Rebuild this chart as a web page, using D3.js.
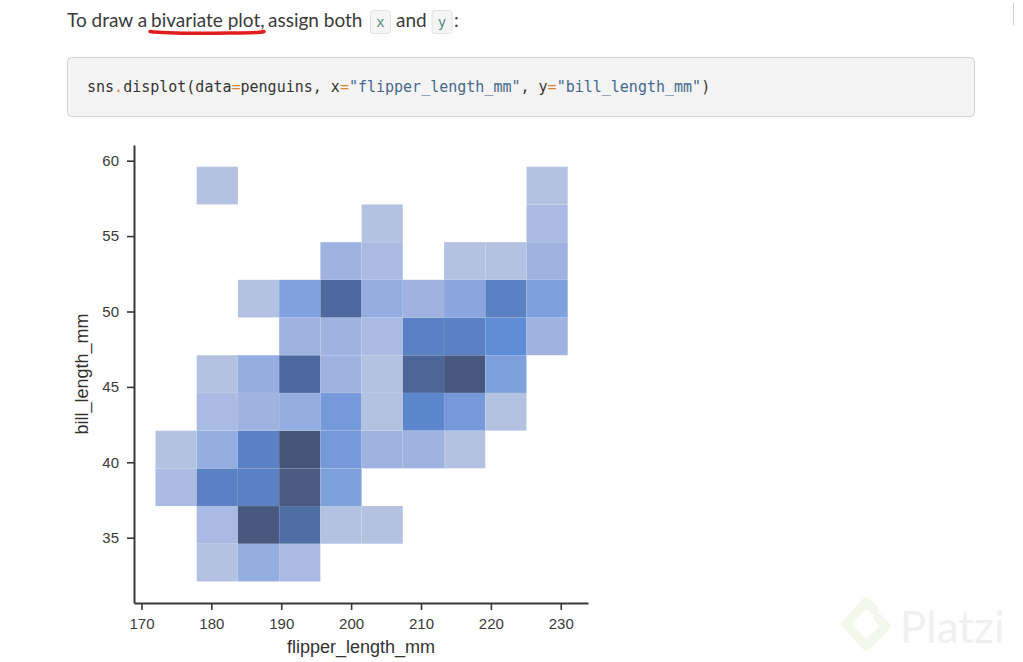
<!DOCTYPE html>
<html>
<head>
<meta charset="utf-8">
<script src="https://cdn.jsdelivr.net/npm/d3@7"></script>
<style>
  html, body { margin: 0; padding: 0; background: #fff; }
  svg { display: block; }
</style>
</head>
<body>
<svg id="chart" width="1023" height="662"></svg>
<script>
// ---- data ----
const xEdges = [172, 177.9, 183.8, 189.7, 195.6, 201.5, 207.4, 213.3, 219.2, 225.1, 231];
const yEdges = [32.1, 34.6, 37.1, 39.6, 42.1, 44.6, 47.1, 49.6, 52.1, 54.6, 57.1, 59.6];
// counts per bill_length bin (row 0 = lowest), per flipper_length bin
const counts = [
  [0, 1, 4, 2, 0, 0, 0, 0, 0, 0],
  [0, 2, 19, 14, 1, 1, 0, 0, 0, 0],
  [2, 12, 12, 18, 7, 0, 0, 0, 0, 0],
  [1, 4, 12, 20, 8, 3, 3, 1, 0, 0],
  [0, 2, 3, 4, 8, 1, 11, 8, 1, 0],
  [0, 1, 4, 15, 3, 1, 16, 19, 7, 0],
  [0, 0, 0, 3, 3, 2, 12, 12, 10, 3],
  [0, 0, 1, 6, 15, 4, 3, 5, 12, 7],
  [0, 0, 0, 0, 3, 2, 0, 1, 1, 3],
  [0, 0, 0, 0, 0, 1, 0, 0, 0, 2],
  [0, 1, 0, 0, 0, 0, 0, 0, 0, 1]
];
const xTicks = [170, 180, 190, 200, 210, 220, 230];
const yTicks = [35, 40, 45, 50, 55, 60];
const xLabel = "flipper_length_mm";
const yLabel = "bill_length_mm";
const colorStops = [1, 2, 3, 4, 5, 6, 7, 8, 10, 12, 14, 16, 18, 20];
const colorValues = ["#b4c2e2", "#a9bbe2", "#a0b3e0", "#94aee2", "#8ba6de", "#80a1de", "#7ea0dd",
  "#7699db", "#5f8dd6", "#5a81c4", "#4f6ea6", "#4c6498", "#4a5b82", "#45557a"];

const svg = d3.select("#chart");

// ---- page text ----
const textColor = "#3b3b3b";
const prose = svg.append("g").attr("font-family", "Lato, 'Open Sans', sans-serif").attr("font-size", 19).attr("fill", textColor);
prose.append("text").attr("x", 67).attr("y", 27).text("To draw a");
prose.append("text").attr("x", 151).attr("y", 27).text("bivariate plot,");
prose.append("text").attr("x", 268).attr("y", 27).text("assign both");
prose.append("text").attr("x", 396).attr("y", 27).text("and");
prose.append("text").attr("x", 454).attr("y", 27).text(":");

svg.append("path")
  .attr("d", "M150,31.5 C170,34 200,33.5 230,33 C250,32.8 258,33.2 264,31.5")
  .attr("fill", "none").attr("stroke", "#e01e1e").attr("stroke-width", 3.4).attr("stroke-linecap", "round");

[[370.5, "x"], [432, "y"]].forEach(([bx, t]) => {
  svg.append("rect").attr("x", bx).attr("y", 10.5).attr("width", 20).attr("height", 23).attr("rx", 3)
    .attr("fill", "#f5f5f5").attr("stroke", "#e2e2e2");
  svg.append("text").attr("x", bx + 10).attr("y", 27).attr("text-anchor", "middle")
    .attr("font-family", "'DejaVu Sans Mono', monospace").attr("font-size", 14).attr("fill", "#5b8a7b").text(t);
});

svg.append("line").attr("x1", 1013.5).attr("x2", 1013.5).attr("y1", 3).attr("y2", 25).attr("stroke", "#d0d0d0");

// code block
svg.append("rect").attr("x", 67.5).attr("y", 57.5).attr("width", 907).attr("height", 59).attr("rx", 4)
  .attr("fill", "#f4f4f4").attr("stroke", "#d2d2d2");
const code = svg.append("text").attr("x", 87).attr("y", 92)
  .attr("font-family", "'DejaVu Sans Mono', 'Liberation Mono', monospace").attr("font-size", 15).attr("fill", "#333");
const dark = "#363636", op = "#d8863a", str = "#47698e";
[["sns", dark], [".", op], ["displot(data", dark], ["=", op], ["penguins, x", dark], ["=", op],
 ['"flipper_length_mm"', str], [", y", dark], ["=", op], ['"bill_length_mm"', str], [")", dark]]
  .forEach(([t, c]) => code.append("tspan").attr("fill", c).text(t));

// ---- chart ----
const x = d3.scaleLinear().domain([168.93, 233.9]).range([134, 588]);
const y = d3.scaleLinear().domain([30.67, 61.04]).range([603, 145]);
const color = d3.scaleLinear().domain(colorStops).range(colorValues).clamp(true);

const cells = [];
counts.forEach((row, j) => row.forEach((c, i) => {
  if (c > 0) cells.push({ x0: xEdges[i], x1: xEdges[i + 1], y0: yEdges[j], y1: yEdges[j + 1], c });
}));

svg.append("g").selectAll("rect").data(cells).join("rect")
  .attr("x", d => x(d.x0))
  .attr("y", d => y(d.y1))
  .attr("width", d => x(d.x1) - x(d.x0))
  .attr("height", d => y(d.y0) - y(d.y1))
  .attr("fill", d => color(d.c))
  .attr("stroke", "#ffffff").attr("stroke-opacity", 0.1).attr("stroke-width", 0.5);

const axisColor = "#383838";
const xAxis = svg.append("g").attr("transform", "translate(0,603)")
  .call(d3.axisBottom(x).tickValues(xTicks).tickSize(7).tickSizeOuter(0).tickPadding(8));
const yAxis = svg.append("g").attr("transform", "translate(134,0)")
  .call(d3.axisLeft(y).tickValues(yTicks).tickSize(7).tickSizeOuter(0).tickPadding(8));
[xAxis, yAxis].forEach(g => {
  g.select(".domain").attr("stroke", axisColor).attr("stroke-width", 2);
  g.selectAll(".tick line").attr("stroke", axisColor).attr("stroke-width", 1.6);
  g.selectAll(".tick text").attr("fill", "#3a3a3a").attr("font-size", 15)
    .attr("font-family", "'Liberation Sans', Arial, sans-serif");
});

svg.append("text").attr("x", 361).attr("y", 653).attr("text-anchor", "middle")
  .attr("font-family", "'Liberation Sans', Arial, sans-serif").attr("font-size", 18).attr("fill", "#333")
  .text(xLabel);
svg.append("text").attr("transform", "translate(88,374) rotate(-90)").attr("text-anchor", "middle")
  .attr("font-family", "'Liberation Sans', Arial, sans-serif").attr("font-size", 18).attr("fill", "#333")
  .text(yLabel);

// ---- watermark ----
svg.append("path")
  .attr("d", "M874,610 L866,602 L846,624 L866,646 L886,626 L878,618")
  .attr("fill", "none").attr("stroke", "#f4f7ec").attr("stroke-width", 9)
  .attr("stroke-linejoin", "round").attr("stroke-linecap", "round");
svg.append("text").attr("x", 900).attr("y", 643)
  .attr("font-family", "Lato, 'Open Sans', sans-serif").attr("font-size", 44).attr("fill", "#f0f0f0")
  .text("Platzi");
</script>
</body>
</html>
